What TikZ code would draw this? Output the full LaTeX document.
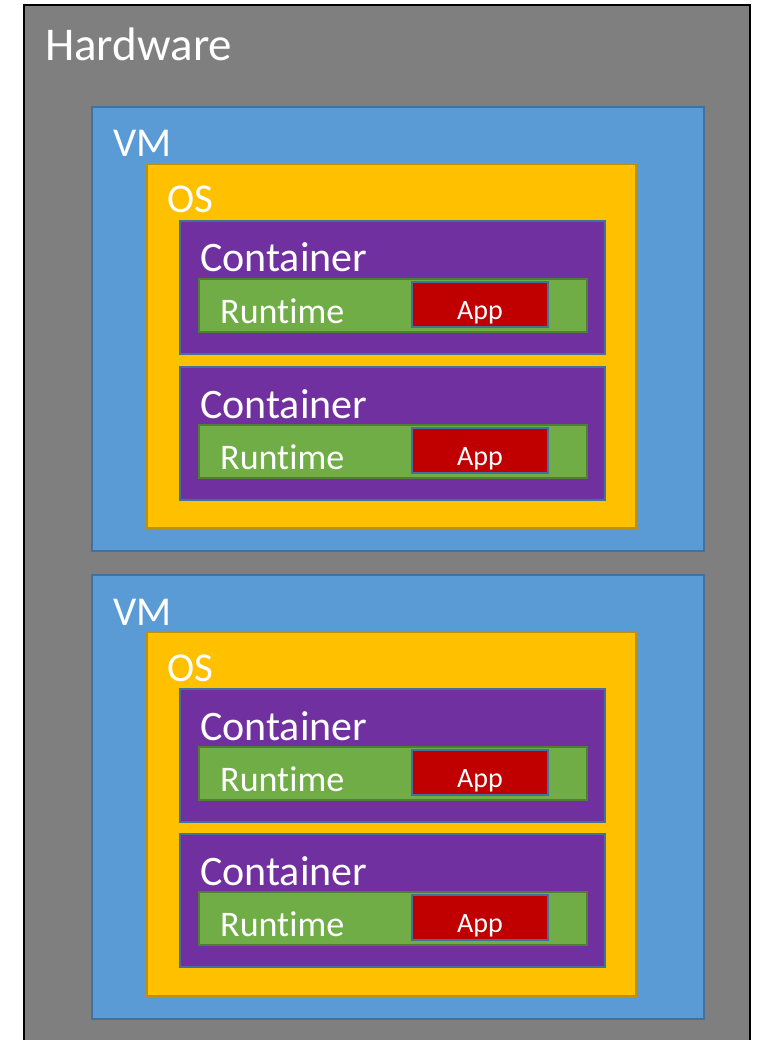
\documentclass[tikz,border=0pt]{standalone}
\usepackage{fontspec}
\setmainfont{Carlito}[Ligatures=NoCommon]
\definecolor{hwfill}{HTML}{7F7F7F}
\definecolor{vmfill}{HTML}{5B9BD5}
\definecolor{vmline}{HTML}{41719C}
\definecolor{osfill}{HTML}{FFC000}
\definecolor{osline}{HTML}{BF9000}
\definecolor{ctfill}{HTML}{7030A0}
\definecolor{ctline}{HTML}{41719C}
\definecolor{rtfill}{HTML}{70AD47}
\definecolor{rtline}{HTML}{507E32}
\definecolor{apfill}{HTML}{C00000}
\definecolor{apline}{HTML}{41719C}
\tikzset{
  layer/.style={rectangle, inner sep=0pt, outer sep=0pt, anchor=north west, line width=2pt},
  lbl/.style={inner sep=0pt, anchor=base west, text=white},
}
\begin{document}
\begin{tikzpicture}[x=1pt,y=-1pt]
\useasboundingbox (0,0) rectangle (760,1040);
\clip (0,0) rectangle (760,1040);
\fill[white] (0,0) rectangle (760,1040);
\node[layer, fill=hwfill, draw=black, line width=2.5pt, minimum width=726pt, minimum height=1060pt] (hw) at (24,5) {};
\node[lbl, font=\fontsize{47}{56}\selectfont] (hwl) at (45,61) {Hardware};
\foreach \v/\vy in {1/107, 2/575}{
  \node[layer, fill=vmfill, draw=vmline, minimum width=612pt, minimum height=444pt] (vm\v) at (92,\vy) {};
  \node[lbl, font=\fontsize{41}{49}\selectfont] (vml\v) at (113,\vy+50) {VM};
  \node[layer, fill=osfill, draw=osline, minimum width=489pt, minimum height=364pt] (os\v) at (147,\vy+57) {};
  \node[lbl, font=\fontsize{41}{49}\selectfont] (osl\v) at (167,\vy+106) {OS};
}
\foreach \i/\cy in {1/221, 2/367, 3/689, 4/834}{
  \node[layer, fill=ctfill, draw=ctline, minimum width=425pt, minimum height=133pt] (c\i) at (180,\cy) {};
  \node[lbl, font=\fontsize{42}{50}\selectfont] (cl\i) at (200,\cy+51) {Container};
  \node[layer, fill=rtfill, draw=rtline, minimum width=388pt, minimum height=53pt] (r\i) at (199,\cy+58) {};
  \node[lbl, font=\fontsize{36}{43}\selectfont] (rl\i) at (220,\cy+102) {Runtime};
  \node[layer, fill=apfill, draw=apline, minimum width=136pt, minimum height=45pt] (a\i) at (412,\cy+61) {};
  \node[inner sep=0pt, anchor=base, text=white, font=\fontsize{28}{34}\selectfont] (al\i) at (480,\cy+98) {App};
}
\end{tikzpicture}
\end{document}
